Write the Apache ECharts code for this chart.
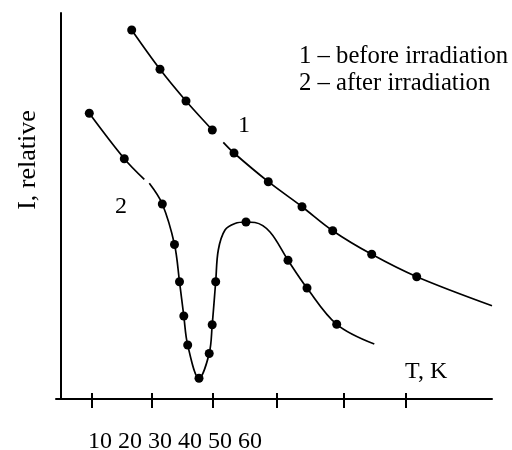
<!DOCTYPE html>
<html>
<head>
<meta charset="utf-8">
<script src="https://cdn.jsdelivr.net/npm/echarts@6/dist/echarts.min.js"></script>
<style>html,body{margin:0;padding:0;background:#fff}#c{width:512px;height:450px}</style>
</head>
<body>
<div id="c"></div>
<script>
// Tick labels and tick positions (axis units)
const tickLabels = ['10', '20', '30', '40', '50', '60'];
const tickPositions = [3.1, 9.1, 15.2, 21.6, 28.3, 34.5];

// Curve 1 – before irradiation: measured points
const curve1X = [7.07, 9.9, 12.5, 15.13, 17.3, 20.73, 24.1, 27.17, 31.07, 35.57];
const curve1Y = [36.9, 32.97, 29.8, 26.9, 24.6, 21.73, 19.23, 16.83, 14.47, 12.23];
// Curve 1 drawn line (two pieces, broken near label)
const curve1LineAX = [7.07, 9.9, 12.5, 15.13, 15.3];
const curve1LineAY = [36.9, 32.97, 29.8, 26.9, 26.7];
const curve1LineBX = [16.23, 17.3, 20.73, 24.1, 27.17, 31.07, 35.57, 43.1];
const curve1LineBY = [25.67, 24.6, 21.73, 19.23, 16.83, 14.47, 12.23, 9.33];

// Curve 2 – after irradiation: measured points
const curve2X = [2.83, 6.33, 10.13, 11.35, 11.85, 12.28, 12.67, 13.8, 14.82, 15.12, 15.47, 18.5, 22.7, 24.6, 27.57];
const curve2Y = [28.57, 24.03, 19.5, 15.45, 11.73, 8.3, 5.4, 2.07, 4.55, 7.42, 11.73, 17.7, 13.88, 11.1, 7.47];
// Curve 2 drawn line (two pieces)
const curve2LineAX = [2.83, 6.33, 8.33];
const curve2LineAY = [28.57, 24.03, 21.97];
const curve2LineBX = [8.83, 10.13, 11.35, 11.85, 12.28, 12.67, 13.8, 14.82, 15.12, 15.47, 15.73, 16.4, 17.4, 18.5, 19.4, 20.9, 22.7, 24.6, 27.57, 31.33];
const curve2LineBY = [21.57, 19.5, 15.45, 11.73, 8.3, 5.4, 2.07, 4.55, 7.42, 11.73, 14.9, 16.9, 17.55, 17.7, 17.65, 16.7, 13.88, 11.1, 7.47, 5.5];

const legendLines = ['1 – before irradiation', '2 – after irradiation'];
const curveNames = ['1', '2'];
const xName = 'T, K';
const yName = 'I, relative';

const zip = (xs, ys) => xs.map((x, i) => [x, ys[i]]);
const FONT = "'Liberation Serif', 'Times New Roman', serif";

const chart = echarts.init(document.getElementById('c'), null, { renderer: 'canvas' });

const lineStyle = { color: '#000', width: 1.7 };
const lineSeries = (data) => ({
  type: 'line', data, smooth: 0.35, showSymbol: false, symbol: 'none',
  lineStyle, silent: true, animation: false, z: 2
});
const dotSeries = (data) => ({
  type: 'scatter', data, symbol: 'circle', symbolSize: 9,
  itemStyle: { color: '#000', opacity: 1 }, silent: true, animation: false, z: 3
});

chart.setOption({
  backgroundColor: '#fff',
  animation: false,
  grid: { left: 56, right: 20, top: 13, bottom: 51, containLabel: false },
  xAxis: [
    {
      type: 'value', min: -0.5, max: 43.1, position: 'bottom',
      axisLine: { show: true, onZero: true, lineStyle: { color: '#000', width: 2 } },
      axisTick: { show: true, inside: false, length: 9, customValues: tickPositions, lineStyle: { color: '#000', width: 2 } },
      axisLabel: { show: false },
      splitLine: { show: false }
    },
    {
      type: 'value', min: -0.5, max: 43.1, position: 'bottom',
      axisLine: { show: false },
      axisTick: { show: true, inside: true, length: 6, customValues: tickPositions, lineStyle: { color: '#000', width: 2 } },
      axisLabel: { show: false },
      splitLine: { show: false }
    }
  ],
  yAxis: {
    type: 'value', min: 0, max: 38.6,
    axisLine: { show: true, onZero: true, lineStyle: { color: '#000', width: 2 } },
    axisTick: { show: false },
    axisLabel: { show: false },
    splitLine: { show: false }
  },
  series: [
    lineSeries(zip(curve1LineAX, curve1LineAY)),
    lineSeries(zip(curve1LineBX, curve1LineBY)),
    lineSeries(zip(curve2LineAX, curve2LineAY)),
    lineSeries(zip(curve2LineBX, curve2LineBY)),
    dotSeries(zip(curve1X, curve1Y)),
    dotSeries(zip(curve2X, curve2Y))
  ],
  graphic: [
    { type: 'text', left: 88, top: 430, style: { text: tickLabels.join(' '), font: '24px ' + FONT, fill: '#000' } },
    { type: 'text', left: 405, top: 360, style: { text: xName, font: '24px ' + FONT, fill: '#000' } },
    { type: 'text', x: 28, y: 160, rotation: Math.PI / 2, style: { text: yName, font: '26px ' + FONT, fill: '#000', align: 'center', verticalAlign: 'middle' } },
    { type: 'text', left: 299, top: 44, style: { text: legendLines[0], font: '24.7px ' + FONT, fill: '#000' } },
    { type: 'text', left: 299, top: 71, style: { text: legendLines[1], font: '24.7px ' + FONT, fill: '#000' } },
    { type: 'text', x: 244, y: 126, style: { text: curveNames[0], font: '24px ' + FONT, fill: '#000', align: 'center', verticalAlign: 'middle' } },
    { type: 'text', x: 121, y: 207, style: { text: curveNames[1], font: '24px ' + FONT, fill: '#000', align: 'center', verticalAlign: 'middle' } }
  ]
});
</script>
</body>
</html>
